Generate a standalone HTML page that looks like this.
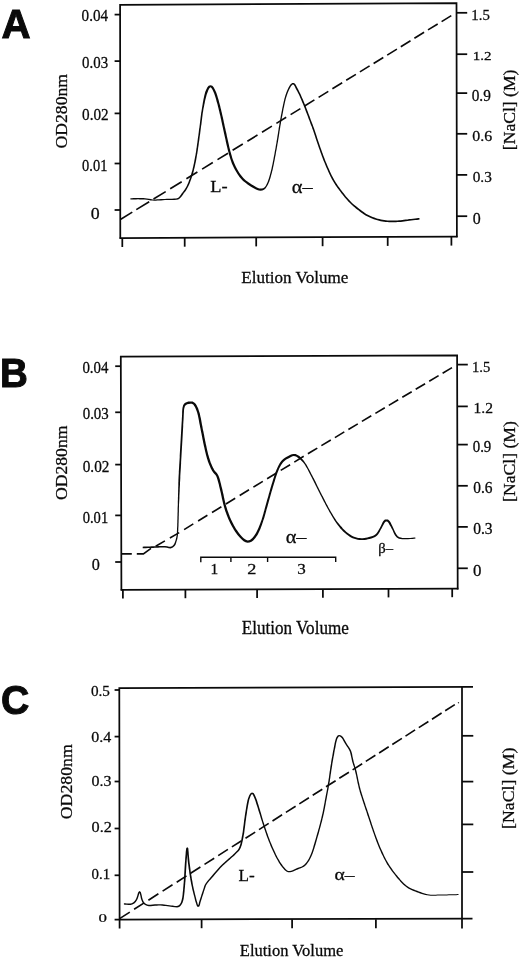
<!DOCTYPE html>
<html><head><meta charset="utf-8"><title>Figure</title>
<style>html,body{margin:0;padding:0;background:#fff}svg{display:block}</style></head>
<body>
<svg width="520" height="958" viewBox="0 0 520 958">
<rect width="520" height="958" fill="#fff"/>
<g fill="none" stroke="#0a0a0a" stroke-width="1.75" stroke-linecap="butt" stroke-linejoin="miter">
<path d="M120.3,238.7 L120.1,4.9 L456.5,3.1 L456.9,237.3"/>
<path d="M119.6,238 L457.6,236.6"/>
<path d="M114.6,14.6 H120.2"/>
<path d="M114.6,61.1 H120.2"/>
<path d="M114.6,113.4 H120.2"/>
<path d="M114.6,163.5 H120.2"/>
<path d="M114.6,210 H120.2"/>
<path d="M456.7,12.8 H467.2"/>
<path d="M456.7,54.2 H467.2"/>
<path d="M456.7,93.1 H467.2"/>
<path d="M456.7,133.8 H467.2"/>
<path d="M456.7,174.9 H467.2"/>
<path d="M456.7,216.2 H467.2"/>
<path d="M122.3,238.0 V247.0"/>
<path d="M184.7,237.7 V246.7"/>
<path d="M256.2,237.4 V246.4"/>
<path d="M322.6,237.2 V246.2"/>
<path d="M387.7,236.9 V245.9"/>
<path d="M451.4,236.6 V245.6"/>
<path d="M121.4,590.5 L120.8,356.5 L457.1,355.4 L457.7,589.5"/>
<path d="M120.7,589.8 L458.4,588.6"/>
<path d="M115.2,366.2 H121"/>
<path d="M115.2,412.3 H121"/>
<path d="M115.2,464.6 H121"/>
<path d="M115.2,515.4 H121"/>
<path d="M115.2,562 H121"/>
<path d="M457.3,364.6 H467.8"/>
<path d="M457.3,406.4 H467.8"/>
<path d="M457.3,444.6 H467.8"/>
<path d="M457.3,485.8 H467.8"/>
<path d="M457.3,526.9 H467.8"/>
<path d="M457.3,568.3 H467.8"/>
<path d="M122.9,589.8 V598.4"/>
<path d="M185.4,589.6 V598.2"/>
<path d="M257.1,589.3 V597.9"/>
<path d="M322.9,589.1 V597.7"/>
<path d="M388.5,588.8 V597.4"/>
<path d="M452.2,588.6 V597.2"/>
<path d="M119.6,928.4 L119.3,688.1 L473,686.8"/>
<path d="M462,686.8 L462,928.4"/>
<path d="M114.6,919.7 L472.5,918.5"/>
<path d="M114.6,690 H119.5"/>
<path d="M114.6,736.6 H119.5"/>
<path d="M114.6,781.5 H119.5"/>
<path d="M114.6,828.5 H119.5"/>
<path d="M114.6,875.3 H119.5"/>
<path d="M462,735.8 H473.3"/>
<path d="M462,781.6 H473.3"/>
<path d="M462,824.4 H473.3"/>
<path d="M462,872 H473.3"/>
<path d="M201.6,919.2 V928.2"/>
<path d="M292.1,919.2 V928.2"/>
<path d="M375.9,919.2 V928.2"/>
<path d="M200.8,562.2 V557.3 H335.7 V562 M230.9,557.3 V562 M267.6,557.3 V562" stroke-width="1.4"/>
</g>
<g fill="none" stroke="#0a0a0a" stroke-width="1.65">
<path d="M120.8,219.2 L132.3,212.1 M136.3,209.6 L149.2,201.7 M153.5,199.0 L165.7,191.6 M170.2,188.8 L181.7,181.7 M186.4,178.8 L197.4,172.0 M202.1,169.1 L212.8,162.5 M217.5,159.6 L228.0,153.2 M232.6,150.3 L242.8,144.0 M247.4,141.2 L257.5,135.0 M262.0,132.2 L271.9,126.1 M276.4,123.4 L286.2,117.3 M290.6,114.6 L300.4,108.6 M304.6,106.0 L314.4,99.9 M318.6,97.4 L328.3,91.4 M332.4,88.8 L342.2,82.8 M346.2,80.3 L355.9,74.4 M359.9,71.9 L369.6,65.9 M373.6,63.5 L383.3,57.5 M387.2,55.1 L396.9,49.1 M400.8,46.7 L410.5,40.7 M414.4,38.3 L424.1,32.3 M428.0,29.9 L437.7,24.0 M441.6,21.6 L451.3,15.6"/>
<path d="M121.8,553.8 H131.8 M136.8,553.8 H143.4 L151,548.4"/>
<path d="M155.7,546.2 L164.9,540.9 M169.9,538.0 L177.5,533.6 L179.2,532.6 M184.1,529.6 L193.3,523.9 M198.1,521.0 L207.4,515.3 M212.0,512.5 L221.4,506.8 M225.9,504.0 L235.2,498.3 M239.7,495.5 L249.0,489.8 M253.4,487.1 L262.8,481.4 M267.1,478.7 L276.5,473.0 M280.7,470.4 L290.1,464.7 M294.3,462.1 L303.7,456.3 M307.9,453.8 L311.6,451.5 L317.3,448.1 M321.4,445.6 L330.8,440.0 M334.9,437.6 L344.3,431.9 M348.4,429.5 L357.8,423.9 M361.9,421.4 L371.3,415.8 M375.4,413.4 L384.8,407.8 M388.8,405.4 L398.2,399.7 M402.3,397.3 L411.7,391.7 M415.7,389.3 L425.1,383.7 M429.2,381.3 L438.6,375.6 M442.6,373.2 L452.0,367.6"/>
<path d="M119.6,918.6 L129.8,912.1 M134.1,909.3 L144.2,902.9 M148.4,900.2 L158.4,893.8 M162.6,891.1 L172.5,884.8 M176.7,882.2 L186.5,875.9 M190.6,873.2 L200.4,867.0 M204.5,864.4 L214.2,858.2 M218.2,855.6 L227.9,849.4 M231.9,846.9 L241.6,840.7 M245.5,838.2 L255.2,832.1 M259.0,829.6 L268.7,823.4 M272.5,821.0 L282.1,814.8 M285.9,812.4 L295.6,806.3 M299.3,803.9 L308.9,797.7 M312.7,795.3 L322.3,789.2 M326.0,786.8 L335.6,780.7 M339.3,778.3 L348.9,772.2 M352.6,769.9 L362.2,763.7 M365.8,761.4 L375.4,755.3 M379.1,753.0 L388.7,746.8 M392.3,744.5 L401.9,738.4 M405.5,736.1 L415.1,729.9 M418.8,727.6 L428.4,721.5 M432.0,719.2 L441.6,713.0 M445.2,710.7 L454.8,704.6"/>
<path d="M458.0,703 L458.9,702.4" stroke-width="1.2"/>
</g>
<g fill="#0a0a0a" stroke="none">
<path d="M130.4,199.5 131.8,199.5 133.8,199.4 136.0,199.4 138.0,199.3 139.8,199.4 141.5,199.4 143.2,199.4 144.9,199.5 146.8,199.8 148.7,200.1 150.6,200.4 152.4,200.6 154.2,200.7 155.9,200.7 157.5,200.6 159.0,200.5 161.0,200.4 163.0,200.3 165.0,200.1 166.7,200.1 168.5,200.1 170.3,200.0 172.0,199.9 174.2,199.9 176.4,199.7 178.2,199.4 180.0,198.3 181.1,197.0 182.0,195.9 183.2,194.2 183.9,193.1 184.9,191.9 186.0,190.4 187.1,188.6 188.2,186.6 188.8,185.3 189.4,184.0 190.0,182.6 190.5,181.1 191.1,179.5 191.7,177.8 192.2,176.2 192.8,174.5 193.3,172.7 193.7,171.3 194.0,169.8 194.4,168.3 194.8,166.8 195.1,165.2 195.4,163.7 195.8,162.0 196.1,160.4 196.4,158.7 196.7,156.9 197.0,155.1 197.3,153.7 197.5,152.2 197.8,150.6 198.0,149.1 198.2,147.4 198.5,145.8 198.7,144.2 198.9,142.5 199.2,140.8 199.4,139.2 199.6,137.5 199.8,135.9 200.1,134.2 200.3,132.6 200.5,131.0 200.7,129.3 200.9,127.7 201.1,126.0 201.4,124.4 201.6,122.7 201.8,121.0 202.0,119.4 202.2,117.8 202.4,116.2 202.6,114.6 202.8,113.1 203.1,111.6 203.3,110.1 203.6,108.3 204.0,106.5 204.3,104.7 204.7,103.0 205.0,101.3 205.4,99.6 205.8,98.0 206.2,96.6 206.5,95.2 206.9,94.0 207.3,92.9 208.3,90.3 209.2,88.5 210.1,87.5 210.5,87.3 210.9,87.6 211.8,88.5 212.8,90.3 214.0,92.9 214.4,94.0 214.8,95.3 215.3,96.7 215.7,98.1 216.2,99.7 216.6,101.4 217.1,103.1 217.6,104.8 218.0,106.6 218.5,108.4 218.9,110.3 219.3,111.7 219.6,113.2 220.0,114.8 220.4,116.3 220.7,117.9 221.1,119.6 221.4,121.2 221.8,122.9 222.1,124.6 222.5,126.2 222.9,127.9 223.2,129.5 223.6,131.2 223.9,132.7 224.3,134.4 224.7,136.2 225.1,137.9 225.5,139.7 225.8,141.4 226.2,143.2 226.6,144.9 227.0,146.6 227.4,148.3 227.8,149.9 228.2,151.4 228.6,152.9 228.9,154.3 229.6,156.4 230.1,158.3 230.7,160.1 231.3,161.8 231.9,163.4 232.6,164.9 233.3,166.4 234.0,168.0 234.8,169.6 235.7,171.1 236.6,172.6 237.5,174.1 238.5,175.5 239.5,176.9 240.6,178.2 241.7,179.5 243.1,180.9 244.5,182.1 246.1,183.3 247.6,184.4 249.1,185.4 250.6,186.4 251.9,187.2 253.7,188.2 255.5,189.2 257.2,190.0 258.8,190.5 260.5,190.7 262.3,190.5 264.0,189.8 265.5,188.5 266.8,186.6 267.4,185.6 268.0,184.4 268.6,183.1 269.2,181.7 269.7,180.2 270.3,178.5 270.8,176.7 271.3,174.8 271.9,172.7 272.2,171.3 272.6,169.9 272.9,168.4 273.2,166.9 273.6,165.3 273.9,163.7 274.2,162.0 274.6,160.3 274.9,158.5 275.2,156.7 275.6,154.9 275.9,153.1 276.2,151.3 276.6,149.5 276.9,147.6 277.2,146.1 277.4,144.6 277.7,143.1 278.0,141.5 278.2,139.9 278.5,138.2 278.8,136.6 279.0,134.9 279.3,133.3 279.5,131.6 279.8,130.0 280.1,128.3 280.3,126.7 280.6,125.1 280.9,123.5 281.1,122.0 281.4,120.5 281.7,119.0 281.9,117.6 282.3,115.8 282.6,113.9 283.0,112.1 283.3,110.3 283.6,108.6 284.0,106.9 284.3,105.2 284.7,103.6 285.0,102.1 285.4,100.6 285.7,99.1 286.1,97.7 286.5,96.4 286.9,95.2 287.6,93.2 288.4,91.3 289.2,89.5 290.0,87.9 290.8,86.6 291.6,85.6 292.3,84.8 292.7,84.5 293.2,84.5 293.9,85.1 294.8,86.5 295.7,88.4 296.8,90.4 297.4,91.6 298.1,92.9 298.8,94.3 299.5,95.8 300.2,97.4 300.9,99.0 301.6,100.7 302.3,102.4 303.0,104.1 303.6,105.6 304.3,107.2 305.0,108.9 305.6,110.7 306.3,112.4 306.9,114.1 307.6,115.8 308.2,117.4 308.7,118.9 309.3,120.3 310.0,122.3 310.6,123.9 311.2,125.4 311.8,126.8 312.3,128.4 313.0,130.3 313.5,131.7 314.0,133.2 314.5,134.8 315.1,136.5 315.6,138.2 316.2,139.9 316.8,141.7 317.4,143.5 318.0,145.3 318.5,146.7 319.0,148.2 319.6,149.8 320.1,151.3 320.7,152.9 321.3,154.5 321.8,156.0 322.4,157.6 323.0,159.2 323.6,160.8 324.3,162.3 324.9,163.8 325.6,165.4 326.2,167.0 326.9,168.6 327.6,170.1 328.3,171.7 329.0,173.2 329.7,174.7 330.4,176.2 331.1,177.6 331.8,178.9 332.7,180.6 333.6,182.1 334.5,183.6 335.4,185.0 336.3,186.3 337.3,187.7 338.3,189.0 339.4,190.5 340.4,191.8 341.4,193.2 342.5,194.6 343.7,196.0 344.8,197.4 346.0,198.8 347.1,200.1 348.3,201.4 349.4,202.6 350.7,203.8 352.0,205.1 353.3,206.2 354.6,207.3 355.9,208.4 357.2,209.4 358.4,210.3 359.5,211.2 361.1,212.4 362.6,213.5 364.0,214.5 365.5,215.4 367.1,216.3 368.7,217.0 370.3,217.8 372.0,218.5 373.8,219.2 375.5,219.8 377.3,220.3 379.0,220.8 380.7,221.2 382.4,221.5 384.0,221.8 385.7,222.0 387.4,222.1 389.1,222.3 390.8,222.3 392.5,222.3 394.2,222.3 395.9,222.2 397.6,222.1 399.2,222.0 400.8,221.9 402.5,221.7 404.1,221.5 405.8,221.3 407.6,221.0 409.3,220.8 411.2,220.6 413.2,220.3 415.2,220.1 417.0,219.9 418.5,219.7 419.6,219.5 419.4,217.9 418.3,218.0 416.8,218.2 415.0,218.4 413.0,218.7 411.0,218.9 409.1,219.1 407.4,219.4 405.6,219.6 403.9,219.8 402.3,220.0 400.7,220.2 399.1,220.3 397.4,220.5 395.8,220.5 394.1,220.6 392.5,220.6 390.8,220.6 389.2,220.6 387.6,220.5 385.9,220.3 384.3,220.1 382.6,219.8 381.0,219.5 379.4,219.1 377.7,218.7 376.1,218.2 374.4,217.6 372.7,216.9 371.0,216.2 369.4,215.5 367.9,214.7 366.3,213.9 364.9,213.0 363.6,212.1 362.1,211.1 360.5,209.8 359.4,209.0 358.2,208.0 357.0,207.1 355.7,206.1 354.4,205.0 353.1,203.9 351.8,202.7 350.6,201.4 349.5,200.3 348.3,199.0 347.2,197.7 346.0,196.4 344.9,195.0 343.8,193.6 342.7,192.2 341.6,190.8 340.6,189.5 339.6,188.1 338.6,186.7 337.7,185.4 336.8,184.1 335.9,182.7 335.0,181.3 334.1,179.8 333.2,178.1 332.5,176.8 331.8,175.5 331.1,174.0 330.4,172.6 329.7,171.0 329.1,169.5 328.4,167.9 327.7,166.4 327.0,164.8 326.4,163.2 325.7,161.7 325.1,160.2 324.5,158.6 323.9,157.1 323.3,155.5 322.8,153.9 322.2,152.4 321.6,150.8 321.1,149.2 320.5,147.7 320.0,146.2 319.5,144.7 318.9,143.0 318.3,141.2 317.7,139.4 317.1,137.7 316.6,136.0 316.0,134.3 315.5,132.7 315.0,131.2 314.5,129.7 313.8,127.8 313.2,126.2 312.7,124.8 312.1,123.3 311.5,121.7 310.7,119.7 310.2,118.3 309.7,116.8 309.1,115.2 308.4,113.5 307.8,111.8 307.1,110.1 306.4,108.3 305.8,106.6 305.1,105.0 304.5,103.4 303.8,101.8 303.1,100.1 302.4,98.4 301.6,96.7 300.9,95.1 300.2,93.6 299.5,92.2 298.8,90.8 298.2,89.6 297.1,87.6 296.2,85.7 295.2,84.1 293.9,83.0 292.3,83.0 291.3,83.7 290.4,84.6 289.6,85.8 288.7,87.2 287.9,88.9 287.1,90.7 286.3,92.7 285.6,94.8 285.2,96.0 284.8,97.4 284.4,98.8 284.1,100.2 283.7,101.7 283.4,103.3 283.0,104.9 282.7,106.6 282.3,108.3 282.0,110.1 281.6,111.9 281.3,113.7 280.9,115.5 280.6,117.4 280.3,118.8 280.1,120.2 279.8,121.8 279.5,123.3 279.3,124.9 279.0,126.5 278.7,128.1 278.5,129.8 278.2,131.4 278.0,133.1 277.7,134.7 277.4,136.4 277.2,138.0 276.9,139.7 276.6,141.3 276.4,142.9 276.1,144.4 275.8,145.9 275.6,147.4 275.3,149.2 274.9,151.0 274.6,152.9 274.3,154.7 273.9,156.5 273.6,158.3 273.3,160.0 272.9,161.7 272.6,163.4 272.3,165.0 271.9,166.6 271.6,168.2 271.3,169.6 270.9,171.0 270.6,172.3 270.0,174.4 269.5,176.3 269.0,178.1 268.4,179.7 267.9,181.2 267.4,182.6 266.8,183.8 266.2,184.9 265.7,185.9 264.4,187.4 263.1,188.2 261.9,188.5 260.5,188.5 259.3,188.4 258.0,187.9 256.4,187.2 254.8,186.3 253.1,185.3 251.7,184.5 250.3,183.6 248.8,182.6 247.4,181.6 245.9,180.4 244.6,179.2 243.3,178.0 242.3,176.8 241.3,175.6 240.3,174.3 239.4,172.9 238.5,171.5 237.6,170.0 236.8,168.5 236.0,167.0 235.3,165.5 234.6,164.0 234.0,162.5 233.4,161.0 232.8,159.4 232.2,157.7 231.7,155.8 231.1,153.7 230.7,152.3 230.3,150.9 229.9,149.3 229.5,147.8 229.1,146.1 228.8,144.4 228.4,142.7 228.0,141.0 227.6,139.2 227.2,137.5 226.8,135.7 226.5,134.0 226.1,132.3 225.7,130.7 225.4,129.1 225.0,127.4 224.6,125.8 224.3,124.1 223.9,122.4 223.6,120.8 223.2,119.1 222.9,117.5 222.5,115.9 222.1,114.3 221.8,112.7 221.4,111.2 221.1,109.7 220.6,107.9 220.2,106.1 219.7,104.3 219.2,102.5 218.8,100.8 218.3,99.1 217.8,97.5 217.4,96.0 216.9,94.6 216.5,93.3 216.0,92.1 214.8,89.4 213.6,87.3 212.3,85.8 210.5,85.2 208.7,85.8 207.4,87.3 206.3,89.4 205.2,92.1 204.9,93.3 204.5,94.7 204.2,96.1 203.9,97.6 203.5,99.2 203.2,100.9 202.9,102.6 202.6,104.4 202.3,106.2 202.0,108.0 201.7,109.9 201.5,111.3 201.2,112.8 201.0,114.4 200.8,116.0 200.6,117.6 200.4,119.2 200.2,120.8 200.0,122.5 199.8,124.2 199.6,125.8 199.4,127.5 199.1,129.1 198.9,130.8 198.7,132.4 198.5,134.0 198.3,135.7 198.0,137.3 197.8,139.0 197.6,140.6 197.4,142.3 197.1,144.0 196.9,145.6 196.7,147.2 196.4,148.8 196.2,150.4 196.0,151.9 195.7,153.4 195.5,154.9 195.1,156.7 194.8,158.4 194.5,160.1 194.2,161.7 193.9,163.3 193.5,164.9 193.2,166.4 192.8,167.9 192.5,169.4 192.1,170.9 191.7,172.3 191.2,174.0 190.7,175.7 190.2,177.3 189.6,178.9 189.0,180.5 188.5,182.0 187.9,183.4 187.3,184.7 186.8,185.9 185.8,187.8 184.7,189.5 183.6,190.9 182.7,192.2 181.8,193.3 180.7,195.0 179.9,196.0 179.0,197.2 177.8,198.1 176.2,198.4 174.2,198.6 172.0,198.7 170.3,198.7 168.5,198.8 166.7,198.8 165.0,198.9 162.9,199.0 161.0,199.1 159.0,199.3 157.4,199.3 155.8,199.4 154.2,199.4 152.6,199.4 150.8,199.1 148.9,198.8 147.0,198.5 145.1,198.3 143.3,198.1 141.5,198.1 139.8,198.1 138.0,198.1 136.0,198.1 133.7,198.1 131.8,198.2 130.4,198.3Z"/>
<path d="M142.7,548.3 144.0,548.2 145.9,548.2 148.0,548.1 150.0,548.0 151.6,547.9 153.2,547.9 154.9,547.8 156.5,547.8 158.0,547.7 159.9,547.6 161.7,547.5 163.4,547.5 164.9,547.5 166.9,547.8 168.7,548.3 170.6,548.4 172.9,547.6 174.6,546.0 175.5,544.7 176.1,543.1 176.6,541.2 177.0,540.0 177.3,539.0 177.6,537.6 177.9,535.5 178.1,532.6 178.2,531.4 178.3,530.2 178.3,528.8 178.4,527.3 178.5,525.7 178.5,524.1 178.6,522.4 178.6,520.7 178.7,518.9 178.7,517.1 178.8,515.3 178.8,513.5 178.9,511.7 178.9,510.0 178.9,508.3 179.0,506.6 179.0,505.0 179.1,503.3 179.2,501.5 179.3,499.7 179.4,497.9 179.4,496.1 179.5,494.4 179.6,492.6 179.7,490.9 179.7,489.2 179.8,487.5 179.9,485.9 180.0,484.4 180.0,482.8 180.1,481.4 180.2,480.0 180.3,478.0 180.3,476.2 180.4,474.6 180.5,473.1 180.6,471.7 180.7,470.3 180.8,468.7 180.9,467.0 181.0,465.0 181.1,463.7 181.1,462.2 181.2,460.6 181.3,459.1 181.4,457.4 181.5,455.8 181.6,454.0 181.7,452.3 181.8,450.6 181.9,448.9 182.0,447.1 182.1,445.4 182.2,443.7 182.3,442.0 182.4,440.4 182.5,438.7 182.6,436.9 182.7,435.1 182.8,433.3 182.9,431.6 183.0,429.8 183.1,428.1 183.2,426.4 183.2,424.7 183.3,423.2 183.4,421.7 183.5,420.3 183.6,419.0 183.7,416.4 183.8,414.2 183.9,412.4 184.0,410.8 184.1,409.4 184.3,408.2 185.0,405.9 186.1,404.9 187.2,404.3 188.8,403.9 190.3,403.7 191.9,403.7 193.5,404.7 193.9,405.4 194.6,406.4 195.3,407.7 195.9,409.2 196.6,410.9 197.2,412.8 197.5,414.1 197.9,415.4 198.2,416.9 198.5,418.4 198.8,420.0 199.1,421.7 199.4,423.4 199.8,425.2 200.1,427.0 200.5,428.8 200.8,430.4 201.1,432.0 201.5,433.8 201.8,435.5 202.2,437.4 202.5,439.2 202.9,441.0 203.2,442.7 203.6,444.4 203.9,446.1 204.3,447.6 204.6,449.1 205.1,451.2 205.6,453.2 206.0,455.0 206.5,456.7 206.9,458.3 207.4,459.8 207.9,461.4 208.6,463.2 209.3,464.9 210.0,466.6 210.7,468.2 211.5,469.7 212.2,471.1 213.4,472.8 214.5,473.9 215.5,475.0 216.5,476.7 216.9,477.9 217.4,479.4 217.8,481.0 218.3,482.8 218.8,484.6 219.2,486.5 219.7,488.4 220.1,490.3 220.5,491.8 220.9,493.4 221.2,495.0 221.6,496.7 221.9,498.4 222.3,500.1 222.7,501.7 223.1,503.4 223.5,505.0 223.9,506.6 224.4,508.2 224.9,509.9 225.4,511.5 226.0,513.1 226.5,514.6 227.1,516.1 227.7,517.6 228.3,519.0 229.0,520.5 229.7,522.0 230.4,523.6 231.2,525.1 232.0,526.6 232.9,528.0 233.7,529.4 234.5,530.7 235.3,531.9 236.4,533.4 237.5,534.9 238.6,536.3 239.7,537.5 240.7,538.6 241.7,539.6 243.6,541.2 245.5,542.3 247.5,542.7 249.5,542.6 251.5,541.7 253.2,540.4 254.3,539.3 255.4,538.0 256.4,536.6 257.5,534.9 258.5,533.0 259.1,531.7 259.8,530.3 260.4,528.9 261.0,527.3 261.6,525.7 262.2,524.0 262.8,522.2 263.4,520.3 263.9,518.9 264.4,517.4 264.8,515.9 265.3,514.3 265.7,512.7 266.2,511.0 266.6,509.3 267.1,507.7 267.6,506.0 268.0,504.4 268.5,502.8 268.9,501.2 269.4,499.6 269.8,497.9 270.3,496.3 270.7,494.7 271.2,493.1 271.6,491.5 272.1,489.9 272.6,488.3 273.0,486.8 273.5,485.3 274.0,483.5 274.6,481.7 275.1,479.9 275.7,478.1 276.2,476.4 276.8,474.8 277.3,473.2 277.9,471.7 278.4,470.4 279.2,468.6 280.0,466.9 280.8,465.5 281.6,464.2 282.5,463.0 283.3,462.0 284.7,460.7 286.2,459.6 287.8,458.8 289.3,458.0 291.0,457.0 292.5,456.3 293.8,456.1 295.1,456.3 296.5,456.8 298.1,457.9 299.2,458.7 300.5,459.7 301.7,460.9 303.0,462.3 304.4,464.1 305.2,465.3 306.0,466.7 306.8,468.1 307.7,469.6 308.5,471.2 309.4,472.9 310.2,474.5 311.1,476.2 311.9,477.8 312.6,479.3 313.4,480.7 314.1,482.2 314.9,483.7 315.6,485.3 316.4,486.8 317.1,488.3 317.9,489.8 318.6,491.3 319.4,492.8 320.1,494.3 320.9,495.8 321.7,497.3 322.4,498.7 323.2,500.2 323.9,501.7 324.7,503.1 325.4,504.6 326.2,506.0 326.9,507.3 327.7,508.8 328.6,510.3 329.4,511.9 330.3,513.3 331.1,514.8 332.0,516.2 332.7,517.5 333.5,518.7 334.2,519.9 335.4,521.7 336.4,523.2 337.3,524.6 338.3,525.8 339.3,527.1 340.3,528.4 341.4,529.6 342.5,530.8 343.7,532.0 345.0,533.1 346.4,534.2 347.8,535.3 349.4,536.4 351.0,537.4 352.6,538.2 354.3,538.8 356.0,539.3 357.7,539.7 359.4,540.0 361.2,540.1 362.9,540.1 364.6,540.0 366.3,539.7 367.9,539.3 369.5,538.9 371.4,538.4 373.3,537.7 375.1,536.9 376.8,535.7 378.0,534.4 379.0,532.9 379.9,531.4 380.7,529.8 381.5,528.4 382.5,526.6 383.5,524.8 384.3,523.3 385.0,522.3 385.9,521.6 386.5,521.6 387.1,521.6 388.0,522.3 388.7,523.3 389.6,524.9 390.6,526.6 391.6,528.4 392.5,530.1 393.3,532.1 394.2,533.9 395.1,535.5 396.8,537.5 398.9,538.7 400.5,539.1 402.3,539.3 404.2,539.3 406.2,539.3 408.1,539.2 410.2,539.1 412.3,538.9 414.2,538.7 415.5,538.6 415.3,537.4 414.1,537.5 412.2,537.7 410.1,537.9 408.0,538.0 406.2,538.1 404.2,538.0 402.4,537.9 400.8,537.6 399.5,537.3 397.8,536.3 396.5,534.5 395.6,533.1 394.8,531.4 393.9,529.5 393.0,527.6 392.2,525.8 391.3,524.0 390.5,522.3 389.6,520.9 388.0,519.6 386.5,519.4 384.9,519.6 383.4,520.9 382.6,522.3 381.8,524.0 381.0,525.8 380.1,527.6 379.3,529.0 378.4,530.5 377.5,532.0 376.6,533.3 375.6,534.3 374.2,535.2 372.6,536.0 370.8,536.6 368.9,537.1 367.4,537.5 365.9,537.8 364.3,538.1 362.8,538.2 361.2,538.3 359.7,538.1 358.1,537.9 356.5,537.5 354.9,537.0 353.4,536.4 351.9,535.7 350.4,534.8 348.9,533.8 347.5,532.7 346.2,531.7 345.0,530.6 343.9,529.5 342.8,528.4 341.8,527.1 340.7,525.9 339.7,524.7 338.7,523.5 337.6,522.3 336.6,520.9 335.4,519.1 334.7,518.0 333.9,516.8 333.1,515.5 332.3,514.1 331.5,512.7 330.6,511.2 329.8,509.7 328.9,508.2 328.1,506.7 327.4,505.3 326.6,503.9 325.9,502.5 325.1,501.1 324.4,499.6 323.6,498.1 322.9,496.6 322.1,495.2 321.4,493.7 320.6,492.2 319.9,490.7 319.1,489.2 318.4,487.7 317.6,486.2 316.9,484.7 316.1,483.1 315.4,481.6 314.6,480.1 313.9,478.6 313.1,477.2 312.3,475.6 311.4,473.9 310.6,472.3 309.7,470.6 308.8,469.0 308.0,467.4 307.2,466.0 306.4,464.6 305.6,463.4 304.3,461.4 303.0,459.8 301.7,458.4 300.6,457.2 299.4,456.1 297.5,454.9 295.6,454.1 293.7,453.9 291.8,454.2 290.0,455.0 288.2,456.0 286.7,456.8 285.0,457.8 283.3,459.0 281.7,460.5 280.7,461.7 279.8,463.0 279.0,464.4 278.2,466.0 277.4,467.7 276.6,469.6 276.0,471.0 275.4,472.5 274.9,474.1 274.3,475.8 273.8,477.5 273.2,479.3 272.7,481.1 272.1,482.9 271.5,484.7 271.1,486.2 270.6,487.7 270.2,489.3 269.7,490.9 269.3,492.5 268.8,494.1 268.4,495.8 267.9,497.4 267.4,499.0 267.0,500.6 266.5,502.2 266.1,503.8 265.6,505.5 265.2,507.1 264.7,508.8 264.3,510.5 263.8,512.1 263.4,513.7 262.9,515.3 262.5,516.8 262.0,518.3 261.6,519.7 260.9,521.5 260.3,523.3 259.6,524.9 259.0,526.5 258.4,528.0 257.7,529.4 257.1,530.7 256.5,532.0 255.5,533.8 254.5,535.3 253.6,536.6 252.6,537.7 251.8,538.6 250.3,539.8 249.0,540.3 247.7,540.5 246.4,540.1 245.0,539.3 243.3,537.9 242.3,537.0 241.4,536.0 240.3,534.8 239.3,533.5 238.2,532.1 237.2,530.6 236.4,529.4 235.6,528.2 234.8,526.8 234.0,525.5 233.3,524.0 232.5,522.6 231.8,521.1 231.0,519.5 230.4,518.1 229.8,516.7 229.3,515.3 228.7,513.8 228.2,512.3 227.6,510.7 227.1,509.2 226.6,507.6 226.1,505.9 225.7,504.4 225.3,502.8 224.9,501.2 224.5,499.6 224.2,497.9 223.8,496.2 223.5,494.5 223.1,492.9 222.7,491.3 222.4,489.7 221.9,487.8 221.4,485.9 221.0,484.0 220.5,482.2 220.1,480.4 219.6,478.7 219.1,477.2 218.5,475.8 217.4,473.7 216.2,472.3 215.2,471.3 214.2,469.9 213.5,468.6 212.8,467.2 212.1,465.7 211.4,464.1 210.7,462.4 210.1,460.6 209.6,459.1 209.1,457.6 208.7,456.1 208.2,454.4 207.8,452.7 207.3,450.7 206.8,448.5 206.5,447.1 206.2,445.6 205.8,444.0 205.5,442.3 205.1,440.5 204.8,438.7 204.4,436.9 204.1,435.1 203.7,433.3 203.4,431.6 203.0,429.9 202.7,428.4 202.4,426.6 202.0,424.8 201.7,423.0 201.4,421.3 201.1,419.6 200.8,418.0 200.4,416.4 200.1,414.9 199.8,413.5 199.4,412.2 198.7,410.2 198.1,408.3 197.3,406.7 196.6,405.3 195.8,404.1 194.9,402.9 192.6,401.5 190.1,401.5 188.3,401.6 186.4,402.2 184.7,403.1 183.2,404.9 182.5,407.8 182.3,409.2 182.2,410.6 182.1,412.3 182.1,414.1 182.0,416.3 181.8,419.0 181.8,420.2 181.7,421.6 181.6,423.1 181.5,424.6 181.4,426.3 181.3,428.0 181.2,429.7 181.1,431.5 181.0,433.2 180.9,435.0 180.8,436.8 180.7,438.6 180.6,440.3 180.5,442.0 180.4,443.6 180.3,445.3 180.2,447.0 180.1,448.8 180.0,450.5 179.9,452.2 179.8,454.0 179.7,455.7 179.7,457.3 179.6,459.0 179.5,460.6 179.4,462.1 179.3,463.6 179.2,465.0 179.1,466.9 179.0,468.6 178.9,470.2 178.8,471.6 178.8,473.0 178.7,474.5 178.6,476.1 178.5,477.9 178.4,480.0 178.4,481.3 178.3,482.8 178.3,484.3 178.3,485.9 178.2,487.5 178.2,489.1 178.1,490.8 178.1,492.6 178.0,494.3 178.0,496.1 177.9,497.9 177.9,499.7 177.8,501.4 177.8,503.2 177.8,505.0 177.7,506.6 177.6,508.2 177.6,509.9 177.6,511.7 177.5,513.5 177.5,515.3 177.4,517.1 177.4,518.9 177.3,520.6 177.3,522.4 177.2,524.1 177.2,525.7 177.1,527.3 177.0,528.7 177.0,530.1 176.9,531.3 176.9,532.4 176.6,535.4 176.3,537.3 176.0,538.6 175.7,539.7 175.4,540.8 174.8,542.6 174.1,544.0 173.4,545.0 172.1,546.2 170.4,546.8 169.0,546.7 167.2,546.2 165.1,545.9 163.4,545.9 161.6,545.9 159.8,546.0 158.0,546.1 156.4,546.2 154.8,546.2 153.2,546.3 151.5,546.3 150.0,546.4 147.9,546.5 145.8,546.6 144.0,546.6 142.7,546.7Z"/>
<path d="M123.9,904.6 125.0,904.7 126.7,904.8 128.6,904.9 130.5,904.9 132.3,904.6 134.3,903.5 135.8,901.9 137.1,900.0 137.9,898.2 138.6,896.1 139.2,894.0 139.7,892.6 139.6,892.3 139.5,892.5 139.9,894.0 140.4,896.1 140.8,898.2 141.3,899.8 142.3,902.3 143.7,904.0 145.1,905.0 146.8,905.8 148.7,906.2 150.8,906.2 152.9,905.9 155.1,905.7 156.7,905.7 158.5,905.6 160.4,905.6 162.5,905.7 164.0,905.9 165.7,906.1 167.5,906.3 169.3,906.6 170.9,906.8 172.4,907.0 174.9,907.3 177.1,907.5 179.1,906.9 180.4,905.9 181.5,904.6 182.5,902.8 183.3,900.2 183.6,899.0 183.8,897.7 184.0,896.2 184.2,894.7 184.4,893.0 184.6,891.3 184.7,889.6 184.9,887.8 185.0,886.1 185.2,884.3 185.3,882.6 185.5,881.0 185.6,879.3 185.7,877.6 185.8,875.9 185.9,874.1 186.0,872.4 186.1,870.6 186.2,868.9 186.3,867.2 186.4,865.6 186.5,864.0 186.6,862.6 186.7,860.6 186.9,858.4 187.1,856.2 187.2,854.2 187.4,852.2 187.6,850.6 187.7,849.3 187.9,848.5 187.2,848.8 186.6,848.5 186.7,849.3 186.9,850.7 187.0,852.4 187.2,854.3 187.4,856.4 187.5,858.6 187.7,860.7 187.9,862.6 188.1,864.1 188.3,865.6 188.5,867.2 188.7,868.9 189.0,870.5 189.2,872.2 189.4,873.8 189.7,875.5 189.9,877.1 190.2,878.6 190.4,880.1 190.8,881.9 191.1,883.7 191.5,885.5 191.9,887.2 192.2,888.9 192.6,890.5 193.0,892.1 193.4,893.7 193.8,895.2 194.3,897.1 194.8,899.2 195.3,901.2 195.9,903.1 196.4,904.7 196.9,905.9 197.8,906.9 199.3,906.4 200.0,904.7 200.5,902.4 201.2,900.2 201.7,898.7 202.2,897.0 202.8,895.2 203.4,893.4 203.9,891.7 204.4,890.2 205.0,888.4 205.5,887.0 206.0,885.6 206.9,884.1 207.6,883.0 208.6,881.8 209.6,880.6 210.7,879.4 211.9,878.1 213.1,876.7 214.1,875.5 215.1,874.3 216.2,873.0 217.3,871.7 218.4,870.4 219.5,869.2 220.5,868.0 221.8,866.7 223.0,865.6 224.2,864.4 225.5,863.3 226.7,862.2 228.0,861.0 229.3,859.9 230.6,858.8 231.9,857.6 233.2,856.5 234.4,855.4 235.5,854.3 236.7,853.1 237.8,852.0 238.9,850.9 239.9,849.6 240.8,847.8 241.2,846.6 241.7,845.2 242.1,843.8 242.4,842.3 242.8,840.7 243.1,839.0 243.5,837.1 243.8,835.1 244.1,833.7 244.3,832.2 244.5,830.6 244.7,828.9 245.0,827.1 245.2,825.3 245.4,823.6 245.6,821.8 245.9,820.0 246.1,818.3 246.3,816.7 246.6,815.1 246.9,813.3 247.1,811.5 247.4,809.6 247.7,807.9 248.0,806.1 248.3,804.4 248.6,802.9 248.9,801.4 249.2,800.1 249.5,799.0 250.6,796.1 251.5,794.5 252.1,794.1 252.4,794.3 253.2,795.6 254.2,797.8 254.7,799.0 255.2,800.3 255.7,801.8 256.2,803.5 256.8,805.2 257.4,807.1 258.0,809.0 258.4,810.4 258.9,811.9 259.4,813.4 259.9,815.1 260.4,816.7 260.9,818.4 261.4,820.1 262.0,821.8 262.5,823.5 263.1,825.2 263.6,826.8 264.1,828.3 264.7,829.9 265.2,831.6 265.8,833.2 266.3,834.8 266.9,836.4 267.5,838.0 268.1,839.6 268.7,841.2 269.4,842.8 270.0,844.3 270.6,845.9 271.3,847.4 272.0,849.0 272.7,850.6 273.4,852.1 274.1,853.6 274.8,855.1 275.5,856.5 276.2,857.8 276.9,859.1 277.9,860.8 278.8,862.4 279.8,864.0 280.8,865.4 281.8,866.8 282.8,868.0 283.7,869.1 284.5,870.0 286.4,871.6 288.1,872.3 290.1,872.3 291.5,872.0 293.1,871.5 294.7,870.8 296.3,870.1 297.8,869.4 299.3,868.8 300.8,868.3 302.4,867.6 304.0,866.7 305.5,865.5 306.5,864.5 307.4,863.3 308.3,862.1 309.2,860.7 310.1,859.1 311.0,857.3 311.9,855.3 312.4,854.0 312.9,852.7 313.4,851.3 313.9,849.7 314.4,848.2 314.9,846.5 315.4,844.9 315.9,843.2 316.4,841.5 316.8,839.9 317.3,838.3 317.7,836.7 318.2,835.2 318.7,833.5 319.2,831.7 319.6,830.0 320.1,828.3 320.6,826.6 321.0,824.9 321.4,823.3 321.9,821.7 322.3,820.1 322.6,818.6 323.0,817.2 323.4,815.3 323.8,813.7 324.1,812.2 324.4,810.7 324.7,809.2 325.0,807.7 325.3,805.9 325.7,803.9 325.9,802.6 326.2,801.1 326.5,799.6 326.8,798.0 327.1,796.3 327.4,794.6 327.7,792.9 328.0,791.2 328.4,789.4 328.7,787.7 328.9,786.0 329.2,784.4 329.5,782.8 329.8,781.2 330.0,779.5 330.3,777.9 330.5,776.3 330.7,774.8 331.0,773.2 331.2,771.6 331.4,770.1 331.7,768.5 331.9,766.9 332.2,765.3 332.4,763.6 332.7,762.0 333.0,760.3 333.3,758.5 333.6,756.7 334.0,754.9 334.3,753.1 334.6,751.3 334.9,749.5 335.3,747.9 335.6,746.3 335.8,744.9 336.1,743.6 336.3,742.5 337.1,739.4 337.6,738.2 338.1,737.4 338.8,736.5 339.3,736.3 340.3,736.7 341.7,738.0 342.6,739.2 343.5,740.9 344.5,742.8 345.6,744.6 346.7,746.2 347.8,747.8 348.8,749.4 349.7,751.3 350.2,752.8 350.6,754.4 351.0,756.2 351.4,758.1 351.8,759.9 352.2,761.7 352.7,763.3 353.1,764.7 353.6,766.1 354.1,767.6 354.6,769.3 355.1,771.4 355.4,772.7 355.7,774.1 356.1,775.6 356.4,777.2 356.7,778.8 357.1,780.5 357.4,782.2 357.8,783.9 358.2,785.5 358.5,787.1 358.9,788.7 359.4,790.3 359.8,792.0 360.3,793.6 360.8,795.2 361.4,796.8 361.9,798.4 362.4,799.9 362.8,801.3 363.3,802.7 363.7,804.0 364.3,805.8 364.8,807.2 365.2,808.4 365.6,809.8 366.3,811.6 367.1,814.2 367.5,815.4 368.0,816.7 368.4,818.0 368.9,819.5 369.4,821.1 370.0,822.7 370.5,824.4 371.1,826.1 371.7,827.9 372.3,829.6 372.9,831.4 373.5,833.1 374.1,834.8 374.7,836.5 375.2,838.1 375.8,839.6 376.3,841.1 377.0,842.8 377.7,844.6 378.4,846.3 379.1,847.9 379.8,849.5 380.5,851.1 381.2,852.7 381.9,854.2 382.6,855.6 383.3,857.1 384.0,858.5 384.7,859.8 385.4,861.1 386.3,862.8 387.2,864.4 388.2,865.8 389.1,867.3 390.0,868.6 391.0,870.0 391.9,871.3 392.9,872.5 393.9,873.8 394.9,875.0 396.0,876.4 397.1,877.9 398.3,879.3 399.5,880.6 400.7,881.9 401.9,883.2 403.1,884.4 404.3,885.5 405.6,886.6 407.2,887.7 408.7,888.7 410.3,889.5 411.9,890.2 413.5,890.9 415.1,891.5 416.7,892.2 418.4,892.8 420.1,893.4 421.9,893.9 423.6,894.4 425.4,894.9 427.1,895.2 428.9,895.5 430.7,895.7 432.4,895.8 434.1,895.8 435.8,895.7 437.6,895.6 439.5,895.6 441.5,895.5 443.1,895.5 444.9,895.4 446.8,895.4 448.8,895.3 450.8,895.3 452.7,895.3 454.5,895.2 456.1,895.2 457.5,895.1 458.5,895.1 458.5,894.1 457.5,894.1 456.1,894.2 454.5,894.2 452.7,894.3 450.8,894.3 448.8,894.3 446.8,894.4 444.9,894.4 443.1,894.5 441.5,894.5 439.5,894.6 437.6,894.6 435.8,894.7 434.1,894.8 432.4,894.8 430.8,894.7 429.1,894.5 427.4,894.2 425.6,893.8 423.9,893.3 422.2,892.7 420.6,892.1 418.9,891.5 417.3,890.8 415.6,890.2 414.0,889.6 412.5,889.0 410.9,888.2 409.4,887.5 407.9,886.5 406.4,885.4 405.3,884.5 404.1,883.4 402.9,882.2 401.7,881.0 400.5,879.7 399.4,878.3 398.2,877.0 397.1,875.6 395.9,874.2 395.0,872.9 394.0,871.7 393.0,870.4 392.1,869.1 391.2,867.8 390.3,866.5 389.3,865.1 388.4,863.6 387.5,862.1 386.6,860.5 385.9,859.2 385.2,857.8 384.5,856.4 383.8,855.0 383.2,853.6 382.5,852.1 381.8,850.6 381.1,849.0 380.4,847.4 379.7,845.7 379.0,844.1 378.3,842.3 377.7,840.5 377.1,839.1 376.5,837.6 376.0,836.0 375.4,834.4 374.8,832.7 374.2,830.9 373.6,829.2 373.0,827.4 372.4,825.7 371.8,824.0 371.3,822.3 370.8,820.7 370.2,819.1 369.7,817.6 369.3,816.2 368.9,814.9 368.5,813.8 367.6,811.2 367.0,809.3 366.5,808.0 366.1,806.7 365.6,805.4 365.1,803.6 364.6,802.3 364.2,800.9 363.7,799.4 363.2,797.9 362.7,796.4 362.2,794.8 361.7,793.2 361.2,791.6 360.7,789.9 360.3,788.3 359.9,786.8 359.5,785.2 359.2,783.6 358.8,781.9 358.4,780.2 358.1,778.5 357.8,776.9 357.4,775.3 357.1,773.8 356.8,772.3 356.5,771.0 355.9,769.0 355.4,767.2 354.9,765.7 354.5,764.3 354.0,762.9 353.6,761.3 353.2,759.6 352.8,757.8 352.4,755.9 352.1,754.1 351.6,752.3 351.1,750.7 350.1,748.7 349.0,746.9 347.9,745.4 346.8,743.8 345.8,742.0 344.8,740.2 343.8,738.4 342.9,737.0 341.1,735.4 339.5,734.9 337.9,735.2 336.9,736.6 336.3,737.6 335.7,739.0 334.9,742.1 334.6,743.3 334.4,744.6 334.1,746.0 333.8,747.6 333.5,749.2 333.1,751.0 332.8,752.8 332.5,754.6 332.2,756.5 331.8,758.3 331.5,760.1 331.2,761.8 331.0,763.4 330.7,765.0 330.4,766.7 330.2,768.3 330.0,769.9 329.7,771.4 329.5,773.0 329.3,774.6 329.1,776.1 328.9,777.7 328.6,779.3 328.4,780.9 328.1,782.6 327.8,784.2 327.6,785.8 327.3,787.5 327.0,789.2 326.7,790.9 326.4,792.6 326.0,794.4 325.7,796.0 325.4,797.7 325.1,799.3 324.8,800.8 324.6,802.3 324.3,803.7 323.9,805.7 323.6,807.4 323.3,809.0 323.0,810.5 322.7,811.9 322.4,813.4 322.0,815.0 321.6,816.8 321.3,818.3 320.9,819.8 320.5,821.3 320.1,822.9 319.7,824.6 319.2,826.2 318.8,827.9 318.3,829.6 317.8,831.4 317.3,833.1 316.8,834.8 316.4,836.3 315.9,837.9 315.5,839.5 315.0,841.1 314.5,842.8 314.0,844.5 313.5,846.1 313.1,847.7 312.6,849.3 312.1,850.8 311.6,852.2 311.1,853.5 310.6,854.7 309.7,856.7 308.9,858.4 308.0,860.0 307.2,861.3 306.3,862.5 305.4,863.5 304.5,864.5 303.2,865.6 301.8,866.4 300.3,867.0 298.8,867.5 297.2,868.1 295.7,868.8 294.1,869.6 292.6,870.2 291.2,870.7 289.9,870.9 288.4,870.9 287.1,870.4 285.5,869.0 284.7,868.1 283.8,867.1 282.9,865.9 282.0,864.6 281.0,863.2 280.0,861.7 279.1,860.1 278.1,858.4 277.4,857.2 276.7,855.8 276.0,854.4 275.4,853.0 274.7,851.5 274.0,850.0 273.3,848.5 272.6,846.9 271.9,845.3 271.3,843.8 270.6,842.2 270.0,840.7 269.4,839.1 268.8,837.5 268.2,835.9 267.7,834.3 267.1,832.7 266.5,831.1 266.0,829.5 265.5,827.9 264.9,826.3 264.4,824.8 263.9,823.1 263.3,821.4 262.8,819.7 262.3,818.0 261.8,816.3 261.3,814.6 260.9,813.0 260.4,811.4 260.0,809.9 259.5,808.5 258.9,806.6 258.4,804.7 257.8,803.0 257.3,801.3 256.8,799.8 256.3,798.4 255.8,797.2 254.7,794.8 253.6,793.1 251.9,792.4 250.3,793.4 249.1,795.4 248.0,798.5 247.6,799.7 247.3,801.1 247.0,802.6 246.7,804.1 246.4,805.8 246.1,807.6 245.8,809.4 245.5,811.2 245.2,813.0 244.9,814.9 244.7,816.4 244.5,818.1 244.2,819.8 244.0,821.6 243.8,823.3 243.6,825.1 243.3,826.9 243.1,828.6 242.9,830.3 242.7,831.9 242.4,833.5 242.2,834.9 241.8,836.8 241.5,838.6 241.2,840.3 240.8,841.9 240.5,843.4 240.1,844.8 239.7,846.0 239.2,847.2 238.5,848.7 237.7,849.9 236.7,851.0 235.7,852.0 234.5,853.2 233.4,854.3 232.2,855.4 230.9,856.5 229.6,857.7 228.3,858.8 227.0,860.0 225.8,861.1 224.5,862.2 223.3,863.3 222.0,864.5 220.7,865.7 219.5,867.0 218.4,868.2 217.3,869.4 216.2,870.7 215.1,872.0 214.0,873.3 212.9,874.6 211.9,875.8 210.8,877.1 209.6,878.4 208.5,879.7 207.4,880.9 206.5,882.2 205.6,883.4 204.7,885.0 204.1,886.5 203.7,888.0 203.1,889.8 202.6,891.3 202.0,893.0 201.4,894.8 200.9,896.6 200.3,898.3 199.8,899.8 199.1,902.0 198.6,904.2 198.1,905.6 198.2,905.6 198.2,905.3 197.7,904.2 197.3,902.6 196.7,900.8 196.2,898.8 195.7,896.8 195.2,894.8 194.8,893.3 194.5,891.8 194.1,890.2 193.7,888.6 193.4,886.9 193.0,885.2 192.7,883.4 192.4,881.6 192.1,879.9 191.8,878.4 191.6,876.8 191.3,875.2 191.1,873.6 190.8,871.9 190.6,870.3 190.4,868.6 190.2,867.0 190.0,865.4 189.8,863.9 189.6,862.4 189.4,860.5 189.2,858.4 189.0,856.3 188.8,854.2 188.7,852.2 188.5,850.5 188.4,849.1 188.2,848.1 187.3,847.2 186.3,848.1 186.1,849.0 185.9,850.4 185.7,852.1 185.6,854.0 185.4,856.1 185.2,858.3 185.1,860.4 184.9,862.4 184.8,863.9 184.7,865.5 184.6,867.1 184.5,868.8 184.4,870.5 184.3,872.3 184.2,874.0 184.1,875.8 184.0,877.5 183.9,879.2 183.8,880.8 183.7,882.4 183.5,884.2 183.4,885.9 183.2,887.7 183.1,889.4 182.9,891.2 182.7,892.9 182.6,894.5 182.4,896.0 182.2,897.4 181.9,898.7 181.7,899.8 181.0,902.2 180.2,903.8 179.4,904.8 178.4,905.6 176.9,906.0 175.0,905.9 172.6,905.5 171.1,905.4 169.5,905.2 167.7,904.9 165.9,904.7 164.1,904.4 162.5,904.3 160.4,904.2 158.5,904.2 156.7,904.2 154.9,904.3 152.7,904.5 150.6,904.8 148.9,904.8 147.3,904.4 145.8,903.8 144.7,903.0 143.6,901.6 142.7,899.4 142.2,897.8 141.8,895.8 141.3,893.7 140.8,891.9 139.6,890.9 138.4,891.9 137.8,893.6 137.2,895.7 136.5,897.7 135.9,899.2 134.7,901.0 133.4,902.3 131.7,903.2 130.4,903.5 128.6,903.5 126.8,903.4 125.1,903.2 123.9,903.2Z"/>
</g>
<text transform="translate(81.59,20.86) scale(0.1515,0.1701)" font-family="'Liberation Serif', serif" font-weight="normal" font-size="100" fill="#0a0a0a" stroke="#0a0a0a" stroke-width="1.74">0.04</text>
<text transform="translate(82.11,67.56) scale(0.1485,0.1701)" font-family="'Liberation Serif', serif" font-weight="normal" font-size="100" fill="#0a0a0a" stroke="#0a0a0a" stroke-width="1.76">0.03</text>
<text transform="translate(82.09,119.67) scale(0.1521,0.1672)" font-family="'Liberation Serif', serif" font-weight="normal" font-size="100" fill="#0a0a0a" stroke="#0a0a0a" stroke-width="1.75">0.02</text>
<text transform="translate(82.12,170.88) scale(0.1442,0.1603)" font-family="'Liberation Serif', serif" font-weight="normal" font-size="100" fill="#0a0a0a" stroke="#0a0a0a" stroke-width="1.84">0.01</text>
<text transform="translate(90.79,218.57) scale(0.1786,0.1627)" font-family="'Liberation Serif', serif" font-weight="normal" font-size="100" fill="#0a0a0a" stroke="#0a0a0a" stroke-width="1.64">0</text>
<text transform="translate(471.27,20.05) scale(0.1482,0.1478)" font-family="'Liberation Serif', serif" font-weight="normal" font-size="100" fill="#0a0a0a" stroke="#0a0a0a" stroke-width="1.89">1.5</text>
<text transform="translate(472.74,60.37) scale(0.1509,0.1343)" font-family="'Liberation Serif', serif" font-weight="normal" font-size="100" fill="#0a0a0a" stroke="#0a0a0a" stroke-width="1.96">1.2</text>
<text transform="translate(471.69,100.87) scale(0.1530,0.1627)" font-family="'Liberation Serif', serif" font-weight="normal" font-size="100" fill="#0a0a0a" stroke="#0a0a0a" stroke-width="1.77">0.9</text>
<text transform="translate(472.26,140.90) scale(0.1593,0.1507)" font-family="'Liberation Serif', serif" font-weight="normal" font-size="100" fill="#0a0a0a" stroke="#0a0a0a" stroke-width="1.81">0.6</text>
<text transform="translate(472.69,181.70) scale(0.1530,0.1522)" font-family="'Liberation Serif', serif" font-weight="normal" font-size="100" fill="#0a0a0a" stroke="#0a0a0a" stroke-width="1.83">0.3</text>
<text transform="translate(472.66,223.99) scale(0.1595,0.1567)" font-family="'Liberation Serif', serif" font-weight="normal" font-size="100" fill="#0a0a0a" stroke="#0a0a0a" stroke-width="1.77">0</text>
<text transform="translate(241.29,282.55) scale(0.1710,0.1775)" font-family="'Liberation Serif', serif" font-weight="normal" font-size="100" fill="#0a0a0a" stroke="#0a0a0a" stroke-width="1.61">Elution Volume</text>
<text transform="translate(210.15,191.60) scale(0.1841,0.1677)" font-family="'Liberation Serif', serif" font-weight="normal" font-size="100" fill="#0a0a0a" stroke="#0a0a0a" stroke-width="1.59">L-</text>
<text transform="translate(291.78,192.62) scale(0.2040,0.1812)" font-family="'Liberation Serif', serif" font-weight="normal" font-size="100" fill="#0a0a0a" stroke="#0a0a0a" stroke-width="1.45">α–</text>
<text transform="translate(66.57,148.51) rotate(-90) scale(0.1767,0.1672)" font-family="'Liberation Serif', serif" font-weight="normal" font-size="100" fill="#0a0a0a" stroke="#0a0a0a" stroke-width="1.63">OD280nm</text>
<text transform="translate(514.72,150.13) rotate(-90) scale(0.1758,0.1611)" font-family="'Liberation Serif', serif" font-weight="normal" font-size="100" fill="#0a0a0a" stroke="#0a0a0a" stroke-width="1.66">[NaCl] (M)</text>
<text transform="translate(1.39,37.81) scale(0.4030,0.4132)" font-family="'Liberation Sans', sans-serif" font-weight="bold" font-size="100" fill="#0a0a0a" stroke="#0a0a0a" stroke-width="2.45">A</text>
<text transform="translate(82.40,372.76) scale(0.1491,0.1687)" font-family="'Liberation Serif', serif" font-weight="normal" font-size="100" fill="#0a0a0a" stroke="#0a0a0a" stroke-width="1.76">0.04</text>
<text transform="translate(82.70,418.57) scale(0.1491,0.1627)" font-family="'Liberation Serif', serif" font-weight="normal" font-size="100" fill="#0a0a0a" stroke="#0a0a0a" stroke-width="1.80">0.03</text>
<text transform="translate(82.69,471.66) scale(0.1527,0.1701)" font-family="'Liberation Serif', serif" font-weight="normal" font-size="100" fill="#0a0a0a" stroke="#0a0a0a" stroke-width="1.73">0.02</text>
<text transform="translate(82.72,523.17) scale(0.1455,0.1647)" font-family="'Liberation Serif', serif" font-weight="normal" font-size="100" fill="#0a0a0a" stroke="#0a0a0a" stroke-width="1.81">0.01</text>
<text transform="translate(91.85,570.17) scale(0.1619,0.1642)" font-family="'Liberation Serif', serif" font-weight="normal" font-size="100" fill="#0a0a0a" stroke="#0a0a0a" stroke-width="1.72">0</text>
<text transform="translate(471.98,372.15) scale(0.1464,0.1493)" font-family="'Liberation Serif', serif" font-weight="normal" font-size="100" fill="#0a0a0a" stroke="#0a0a0a" stroke-width="1.89">1.5</text>
<text transform="translate(473.50,412.56) scale(0.1555,0.1403)" font-family="'Liberation Serif', serif" font-weight="normal" font-size="100" fill="#0a0a0a" stroke="#0a0a0a" stroke-width="1.89">1.2</text>
<text transform="translate(472.71,451.99) scale(0.1487,0.1567)" font-family="'Liberation Serif', serif" font-weight="normal" font-size="100" fill="#0a0a0a" stroke="#0a0a0a" stroke-width="1.83">0.9</text>
<text transform="translate(473.18,492.88) scale(0.1542,0.1582)" font-family="'Liberation Serif', serif" font-weight="normal" font-size="100" fill="#0a0a0a" stroke="#0a0a0a" stroke-width="1.79">0.6</text>
<text transform="translate(473.18,533.99) scale(0.1556,0.1567)" font-family="'Liberation Serif', serif" font-weight="normal" font-size="100" fill="#0a0a0a" stroke="#0a0a0a" stroke-width="1.79">0.3</text>
<text transform="translate(473.12,575.98) scale(0.1690,0.1582)" font-family="'Liberation Serif', serif" font-weight="normal" font-size="100" fill="#0a0a0a" stroke="#0a0a0a" stroke-width="1.71">0</text>
<text transform="translate(241.69,634.34) scale(0.1710,0.1803)" font-family="'Liberation Serif', serif" font-weight="normal" font-size="100" fill="#0a0a0a" stroke="#0a0a0a" stroke-width="1.59">Elution Volume</text>
<text transform="translate(285.69,543.42) scale(0.2030,0.1792)" font-family="'Liberation Serif', serif" font-weight="normal" font-size="100" fill="#0a0a0a" stroke="#0a0a0a" stroke-width="1.47">α–</text>
<text transform="translate(378.32,552.99) scale(0.1458,0.1385)" font-family="'Liberation Serif', serif" font-weight="normal" font-size="100" fill="#0a0a0a" stroke="#0a0a0a" stroke-width="1.97">β–</text>
<text transform="translate(210.51,574.30) scale(0.1543,0.1485)" font-family="'Liberation Serif', serif" font-weight="normal" font-size="100" fill="#0a0a0a" stroke="#0a0a0a" stroke-width="1.85">1</text>
<text transform="translate(247.17,574.30) scale(0.1825,0.1508)" font-family="'Liberation Serif', serif" font-weight="normal" font-size="100" fill="#0a0a0a" stroke="#0a0a0a" stroke-width="1.68">2</text>
<text transform="translate(297.15,574.35) scale(0.1707,0.1515)" font-family="'Liberation Serif', serif" font-weight="normal" font-size="100" fill="#0a0a0a" stroke="#0a0a0a" stroke-width="1.74">3</text>
<text transform="translate(67.06,500.01) rotate(-90) scale(0.1763,0.1687)" font-family="'Liberation Serif', serif" font-weight="normal" font-size="100" fill="#0a0a0a" stroke="#0a0a0a" stroke-width="1.62">OD280nm</text>
<text transform="translate(514.94,501.94) rotate(-90) scale(0.1765,0.1600)" font-family="'Liberation Serif', serif" font-weight="normal" font-size="100" fill="#0a0a0a" stroke="#0a0a0a" stroke-width="1.66">[NaCl] (M)</text>
<text transform="translate(-0.10,386.90) scale(0.3852,0.4000)" font-family="'Liberation Sans', sans-serif" font-weight="bold" font-size="100" fill="#0a0a0a" stroke="#0a0a0a" stroke-width="2.55">B</text>
<text transform="translate(90.89,696.01) scale(0.1521,0.1463)" font-family="'Liberation Serif', serif" font-weight="normal" font-size="100" fill="#0a0a0a" stroke="#0a0a0a" stroke-width="1.88">0.5</text>
<text transform="translate(91.26,741.72) scale(0.1597,0.1403)" font-family="'Liberation Serif', serif" font-weight="normal" font-size="100" fill="#0a0a0a" stroke="#0a0a0a" stroke-width="1.87">0.4</text>
<text transform="translate(91.56,785.91) scale(0.1598,0.1448)" font-family="'Liberation Serif', serif" font-weight="normal" font-size="100" fill="#0a0a0a" stroke="#0a0a0a" stroke-width="1.84">0.3</text>
<text transform="translate(91.55,832.42) scale(0.1626,0.1403)" font-family="'Liberation Serif', serif" font-weight="normal" font-size="100" fill="#0a0a0a" stroke="#0a0a0a" stroke-width="1.85">0.2</text>
<text transform="translate(91.61,879.02) scale(0.1487,0.1382)" font-family="'Liberation Serif', serif" font-weight="normal" font-size="100" fill="#0a0a0a" stroke="#0a0a0a" stroke-width="1.95">0.1</text>
<text transform="translate(98.42,922.13) scale(0.1690,0.1328)" font-family="'Liberation Serif', serif" font-weight="normal" font-size="100" fill="#0a0a0a" stroke="#0a0a0a" stroke-width="1.86">0</text>
<text transform="translate(239.80,955.98) scale(0.1652,0.1620)" font-family="'Liberation Serif', serif" font-weight="normal" font-size="100" fill="#0a0a0a" stroke="#0a0a0a" stroke-width="1.71">Elution Volume</text>
<text transform="translate(238.59,880.50) scale(0.1716,0.1569)" font-family="'Liberation Serif', serif" font-weight="normal" font-size="100" fill="#0a0a0a" stroke="#0a0a0a" stroke-width="1.70">L-</text>
<text transform="translate(334.52,880.33) scale(0.1960,0.1708)" font-family="'Liberation Serif', serif" font-weight="normal" font-size="100" fill="#0a0a0a" stroke="#0a0a0a" stroke-width="1.53">α–</text>
<text transform="translate(71.67,819.21) rotate(-90) scale(0.1775,0.1672)" font-family="'Liberation Serif', serif" font-weight="normal" font-size="100" fill="#0a0a0a" stroke="#0a0a0a" stroke-width="1.62">OD280nm</text>
<text transform="translate(513.59,828.94) rotate(-90) scale(0.1776,0.1578)" font-family="'Liberation Serif', serif" font-weight="normal" font-size="100" fill="#0a0a0a" stroke="#0a0a0a" stroke-width="1.67">[NaCl] (M)</text>
<text transform="translate(1.03,714.48) scale(0.3923,0.4155)" font-family="'Liberation Sans', sans-serif" font-weight="bold" font-size="100" fill="#0a0a0a" stroke="#0a0a0a" stroke-width="2.48">C</text>
</svg>
</body></html>
